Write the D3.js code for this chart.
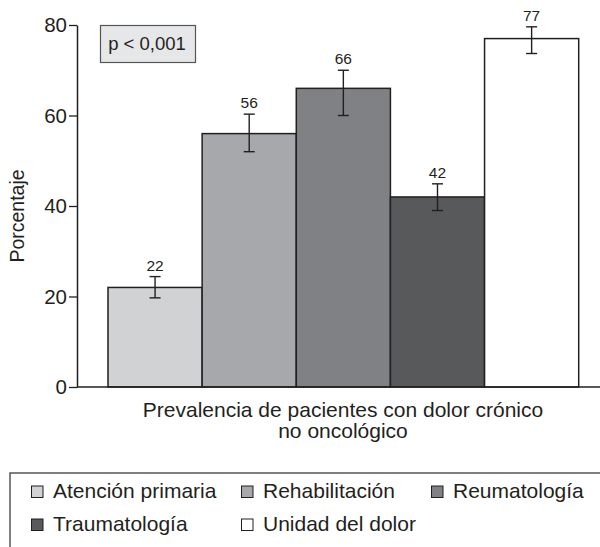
<!DOCTYPE html>
<html>
<head>
<meta charset="utf-8">
<script src="https://cdn.jsdelivr.net/npm/d3@7/dist/d3.min.js"></script>
<style>
  html, body { margin: 0; padding: 0; background: #fff; }
  svg { display: block; font-family: "Liberation Sans", Arial, Helvetica, sans-serif; }
</style>
</head>
<body>
<svg id="chart" width="600" height="547"></svg>
<script>
// Prevalence of chronic non-cancer pain by care setting
const categories = ["Atención primaria", "Rehabilitación", "Reumatología", "Traumatología", "Unidad del dolor"];
const values = [22, 56, 66, 42, 77];
const errLow = [19.7, 52, 60, 39, 73.7];
const errHigh = [24.4, 60.3, 70, 44.9, 79.6];
const colors = ["#d1d2d4", "#a7a8ab", "#808184", "#58595b", "#ffffff"];
const yTicks = [0, 20, 40, 60, 80];

const ink = "#231f20";
const svg = d3.select("#chart");

const x = d3.scaleBand().domain(categories).range([108, 578.7]).padding(0);
const y = d3.scaleLinear().domain([0, 80]).range([387, 25]);
const axisX = 77;

// y axis
const yAxis = d3.axisLeft(y).tickValues(yTicks).tickSize(8).tickPadding(2).tickSizeOuter(0);
const gy = svg.append("g").attr("transform", `translate(${axisX},0)`).call(yAxis);
gy.select(".domain").attr("stroke", ink).attr("stroke-width", 1.5);
gy.selectAll(".tick line").attr("stroke", ink).attr("stroke-width", 1.3);
gy.selectAll(".tick text").attr("fill", ink).style("font-size", "20.5px")
  .style("font-family", "\"Liberation Sans\", Arial, sans-serif");

// y axis title
svg.append("text")
  .attr("transform", "translate(24,216) rotate(-90)")
  .attr("text-anchor", "middle")
  .attr("fill", ink)
  .style("font-size", "19.5px")
  .text("Porcentaje");

// bars
svg.append("g").selectAll("rect").data(categories).join("rect")
  .attr("x", d => x(d))
  .attr("width", x.bandwidth())
  .attr("y", (d, i) => y(values[i]))
  .attr("height", (d, i) => y(0) - y(values[i]))
  .attr("fill", (d, i) => colors[i])
  .attr("stroke", ink)
  .attr("stroke-width", 1.5);

// baseline
svg.append("line")
  .attr("x1", axisX).attr("x2", 600)
  .attr("y1", y(0)).attr("y2", y(0))
  .attr("stroke", ink).attr("stroke-width", 1.5);

// error bars
const eb = svg.append("g").attr("stroke", ink).attr("stroke-width", 1.4);
categories.forEach((c, i) => {
  const cx = x(c) + x.bandwidth() / 2;
  eb.append("line").attr("x1", cx).attr("x2", cx).attr("y1", y(errLow[i])).attr("y2", y(errHigh[i]));
  eb.append("line").attr("x1", cx - 5.5).attr("x2", cx + 5.5).attr("y1", y(errLow[i])).attr("y2", y(errLow[i]));
  eb.append("line").attr("x1", cx - 5.5).attr("x2", cx + 5.5).attr("y1", y(errHigh[i])).attr("y2", y(errHigh[i]));
});

// value labels
svg.append("g").selectAll("text").data(categories).join("text")
  .attr("x", d => x(d) + x.bandwidth() / 2)
  .attr("y", (d, i) => y(errHigh[i]) - 6)
  .attr("text-anchor", "middle")
  .attr("fill", ink)
  .style("font-size", "15.5px")
  .text((d, i) => values[i]);

// significance box
svg.append("rect")
  .attr("x", 100.5).attr("y", 25.5).attr("width", 95).attr("height", 37)
  .attr("fill", "#e6e7e8").attr("stroke", "#555").attr("stroke-width", 1.2);
svg.append("text")
  .attr("x", 147).attr("y", 50)
  .attr("text-anchor", "middle")
  .attr("fill", ink)
  .style("font-size", "18.5px")
  .text("p < 0,001");

// x axis title
const xt = svg.append("text").attr("text-anchor", "middle").attr("fill", ink).style("font-size", "21px");
xt.append("tspan").attr("x", 343).attr("y", 417).text("Prevalencia de pacientes con dolor crónico");
xt.append("tspan").attr("x", 343).attr("y", 438).text("no oncológico");

// legend
svg.append("rect")
  .attr("x", 10).attr("y", 473).attr("width", 600).attr("height", 100)
  .attr("fill", "none").attr("stroke", "#555").attr("stroke-width", 1.5);

const legendPos = [
  { x: 31, y: 498 }, { x: 241, y: 498 }, { x: 431, y: 498 },
  { x: 31, y: 531 }, { x: 241, y: 531 }
];
const lg = svg.append("g").selectAll("g").data(categories).join("g")
  .attr("transform", (d, i) => `translate(${legendPos[i].x},${legendPos[i].y})`);
lg.append("rect")
  .attr("x", 0.5).attr("y", -12).attr("width", 11.5).attr("height", 11.5)
  .attr("fill", (d, i) => colors[i]).attr("stroke", ink).attr("stroke-width", 1);
lg.append("text")
  .attr("x", 22).attr("y", 0)
  .attr("fill", ink)
  .style("font-size", "21px")
  .text(d => d);
</script>
</body>
</html>
